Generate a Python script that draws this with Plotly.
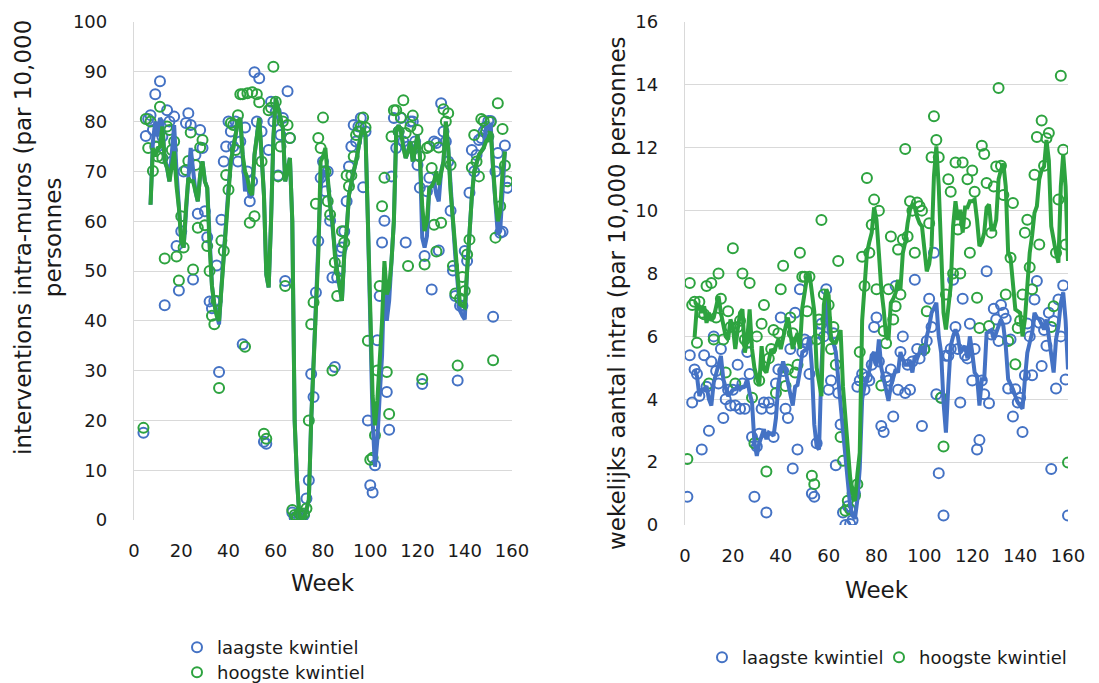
import plotly.graph_objects as go

# ---------------- data: left chart (interventions intra-muros) ----------------
left_start = 4
left_low_pts = [17.5, 77.1, 80.5, 81.3, 78.3, 85.5, 75, 88.1, 77, 43.1, 82.3, 80, 72, 81, 55, 46.1, 58, 70, 79.7, 81.7,
                79.3, 48.3, 73.3, 61.5, 78.3, 74.7, 62, 56.8, 43.9, 42.5, 44, 51.1, 29.7, 60.3, 72, 75, 80, 78, 75, 80,
                72, 76, 35.3, 78.8, 70, 64, 68, 89.9, 80, 88.7, 78, 15.7, 15.3, 74.3, 84, 80, 82, 69.2, 77.3, 80.7,
                48, 86.1, 76.7, 1.5, 0.5, 0.3, 0.2, 0.4, 1.0, 4.3, 8, 29.3, 24.7, 45.7, 56, 68.7, 72, 66, 70, 60.1,
                48.7, 30.7, 48.7, 54, 54.7, 58, 64, 71, 75, 79.3, 76, 79, 80.7, 66.8, 78, 20, 7, 5.5, 11, 36.1,
                45, 55.7, 60.1, 25.7, 18.1, 69, 80.7, 74.7, 78, 80.7, 76, 55.7, 75, 80, 80, 76, 71.3, 66.7, 27.3, 53,
                66, 68.7, 46.3, 76, 75.7, 54.1, 83.7, 78, 76, 72, 62.1, 50.1, 45, 28, 43, 43, 54, 52, 65.7, 74.3,
                70, 73.3, 76.3, 76.7, 78, 79, 80.1, 80.1, 40.8, 70, 73.7, 57.7, 57.9, 75.2, 66.7]
left_high_pts = [18.5, 80.5, 74.7, 80, 70.1, 75, 73, 83, 72.7, 52.5, 79, 78.3, 74.3, 76, 52.9, 48.1, 61, 54.7, 70.3, 72.1,
                 77.8, 50.3, 71.3, 58.7, 74.8, 76.3, 59.2, 55, 50, 41, 39.3, 44, 26.5, 56.1, 54, 69.3, 66.3, 79.7, 79.3, 74.3,
                 81.3, 85.5, 85.5, 34.8, 85.7, 59.7, 85.9, 61, 85.5, 83.9, 72, 17.3, 16.3, 82.3, 82.8, 91, 84, 69, 75, 80,
                 47, 79.3, 76.7, 2, 1.0, 0.7, 1.2, 0.8, 1.3, 2.3, 20, 39.3, 43.7, 63.5, 76.7, 74.7, 80.8, 70, 64, 61.3,
                 30, 51.7, 45, 50, 58, 55.7, 69.2, 67, 69.2, 73, 77.3, 78, 79, 80.8, 78.8, 36, 12.1, 12.5, 17, 30,
                 47, 63, 68.7, 29.7, 21.3, 77, 82.3, 82.3, 78, 80.8, 84.3, 77.7, 51, 79, 81.2, 75, 78.3, 73, 28.3, 51.3,
                 74.7, 75, 70.7, 59.3, 53.9, 74.8, 59.7, 82.5, 80, 81.7, 71.3, 51, 45.5, 31, 44.5, 48.8, 46, 53.3, 56.3, 70.8,
                 77.3, 72, 69, 80.5, 80.1, 78, 77, 79.9, 32.1, 56.7, 83.7, 63, 78.5, 71.2, 68]

left_line_start = 7
left_low_line = [63.3, 76, 80, 77, 80.7, 80, 72, 70.7, 68, 75, 79.3, 70, 62.7, 56, 54.7, 62.7, 68.7, 74.7, 70, 66,
                 64, 69.3, 72, 68, 66.7, 55, 47, 43.3, 41, 39.3, 46.7, 54, 58.7, 66.7, 72, 74.7, 78, 80, 80.7, 73.3,
                 66, 68, 64.7, 65.3, 73.3, 77, 80.7, 73.3, 65.3, 49.3, 46.7, 60, 76.7, 84.7, 82.7, 80, 78.7, 68, 70, 72.7,
                 60, 20, 8, 0.7, 0, 0.7, 2, 4, 20, 32, 40, 53.3, 66.7, 70, 70, 68, 63, 60, 53.3, 50,
                 47, 44, 53.3, 58, 65.3, 68, 70, 72, 75, 77.3, 78.7, 77.3, 60, 40, 20, 10.7, 16, 25, 33, 50.7,
                 40, 44, 52, 60, 78, 79.3, 78, 74.7, 72.7, 74, 76, 72, 75, 77.3, 73.3, 56.7, 54.7, 57, 66.7, 67,
                 68, 65.3, 64, 70, 72, 80, 74.7, 66, 60, 53, 47, 42, 41, 40.3, 50, 58, 65, 70, 72, 73.3,
                 74, 74.7, 78.7, 79, 79.3, 70, 64, 57.3, 58, 68, 74]
left_high_line = [63.3, 74.7, 73, 74.7, 75, 79, 72, 70.7, 68, 71.3, 74, 67, 62.7, 56, 54.7, 62.7, 68.7, 68, 68, 66,
                  64, 69.3, 72, 68, 66.7, 55, 47, 43.3, 41, 40, 46.7, 54, 58.7, 66.7, 72, 74.7, 78, 80, 80.7, 73.3,
                  70, 68.7, 66, 65.3, 73.3, 77, 80.7, 73.3, 65.3, 49.3, 46.7, 60, 76.7, 84.7, 82.7, 80, 78.7, 68, 70, 72.7,
                  60, 20, 8, 0.7, 0, 0.7, 2, 4, 20, 32, 40, 53.3, 72, 73, 74.7, 68, 63, 60, 53.3, 50,
                  47, 44, 53.3, 58, 65.3, 68, 70, 72, 75, 77.3, 78.7, 77.3, 60, 40, 25, 19, 24, 32, 40, 52,
                  45.3, 46.7, 52, 60, 78, 79.3, 78, 74.7, 72.7, 74, 76, 72, 75, 77.3, 73.3, 63, 58, 60, 66.7, 67,
                  68, 70, 67.3, 70, 72, 80, 74.7, 66, 60, 53, 47, 43.3, 43, 42.7, 50, 58, 65, 70, 72, 73.3,
                  74, 74.7, 76, 76.7, 78, 70, 64, 60, 62, 70, 74]

# ---------------- data: right chart (wekelijks aantal intra) ----------------
right_start = 1
right_low_pts = [0.9, 5.4, 3.9, 4.95, 4.8, 4.1, 2.4, 5.4, 4.4, 3.0, 5.2, 6.0, 4.9, 4.5, 5.6, 3.4, 4.0, 4.3, 3.8, 4.3,
                 3.8, 5.1, 3.7, 4.5, 3.7, 5.5, 4.8, 2.8, 0.9, 2.5, 2.9, 3.7, 3.9, 0.4, 3.9, 3.7, 2.8, 4.5, 4.95, 6.6,
                 4.9, 3.7, 3.4, 5.6, 1.8, 6.75, 2.4, 7.5, 5.5, 5.9, 5.8, 4.8, 1.0, 0.9, 2.6, 6.1, 6.4, 6.0, 7.5, 4.3,
                 4.6, 6.1, 1.9, 4.2, 3.2, 0.4, 0.0, 0.6, 0.03, 0.15, 1.0, 4.4, 4.6, 4.8, 4.3, 4.7, 4.6, 5.1, 6.3, 6.6,
                 5.2, 3.15, 2.96, 4.7, 4.6, 4.95, 3.45, 7.6, 4.3, 5.5, 6.0, 4.2, 5.1, 4.3, 5.2, 7.8, 5.6, 5.3, 3.15, 5.6,
                 5.85, 7.2, 6.3, 8.66, 4.16, 1.65, 4.05, 0.3, 5.38, 5.38, 5.6, 7.8, 6.3, 5.6, 3.9, 7.2, 5.4, 5.3, 6.4, 4.6,
                 5.6, 2.4, 2.7, 4.6, 4.16, 8.07, 3.87, 6.06, 6.88, 6.54, 5.85, 7.0, 6.75, 6.56, 4.34, 5.9, 3.45, 4.32, 3.9, 4.05,
                 2.96, 4.76, 6.41, 6.0, 4.76, 7.17, 7.76, 6.43, 5.06, 6.2, 5.7, 6.75, 1.78, 6.49, 4.34, 7.17, 6.0, 7.62, 4.63, 0.3]
right_high_pts = [2.1, 7.7, 7.0, 7.1, 5.8, 7.1, 6.75, 6.7, 7.6, 4.5, 7.7, 5.9, 6.6, 8.0, 7.2, 5.9, 4.85, 6.8, 6.3, 8.8,
                  4.5, 6.3, 6.5, 8.0, 5.9, 5.8, 7.7, 4.05, 2.6, 6.0, 4.6, 6.4, 7.0, 1.7, 5.3, 5.6, 6.2, 4.2, 6.1, 7.5,
                  8.25, 4.42, 4.95, 6.6, 6.1, 4.85, 5.1, 8.66, 7.9, 7.9, 6.8, 7.9, 1.57, 1.3, 5.9, 6.54, 9.7, 7.33, 6.54, 7.0,
                  5.6, 6.3, 5.1, 8.4, 2.8, 2.04, 0.45, 0.77, 0.5, 1.0, 0.93, 1.3, 5.5, 8.53, 7.6, 11.04, 8.66, 9.55, 10.35, 7.5,
                  10.0, 4.44, 6.17, 5.78, 7.5, 9.18, 6.54, 6.96, 8.76, 7.33, 9.08, 11.96, 9.18, 10.3, 10.0, 8.66, 10.26, 10.14, 10.0, 5.59,
                  6.8, 9.6, 11.7, 13.0, 12.25, 11.7, 4.05, 2.5, 7.33, 11.0, 10.6, 8.0, 11.53, 9.4, 8.0, 11.53, 9.6, 11.0, 8.66, 11.28,
                  10.6, 7.23, 6.27, 12.06, 11.8, 10.88, 6.33, 9.3, 10.77, 11.4, 13.9, 11.43, 10.5, 7.33, 5.85, 8.5, 10.24, 5.11, 6.27, 6.5,
                  7.33, 9.3, 9.71, 8.2, 7.5, 11.14, 12.34, 8.92, 12.87, 11.43, 12.3, 12.47, 6.3, 6.96, 8.66, 10.35, 14.29, 11.94, 8.92, 1.99]

right_line_start = 4
right_low_line = [4.95, 4.74, 4.1, 4.3, 4.32, 4.42, 4.0, 3.8, 4.53, 4.8, 5.06, 5.38, 4.64, 4.3, 4.1, 4.2, 4.3, 4.32, 4.42, 4.32,
                  4.4, 4.42, 4.64, 4.2, 3.9, 2.62, 2.2, 2.6, 2.84, 3.05, 2.73, 2.94, 2.9, 2.84, 3.4, 4.5, 4.9, 5.2, 4.9, 4.5,
                  4.1, 3.8, 4.4, 4.45, 4.9, 5.5, 5.55, 5.6, 6.0, 5.0, 3.2, 2.5, 2.4, 5.0, 6.5, 7.5, 6.2, 6.0, 5.8, 5.5,
                  4.6, 3.6, 3.0, 2.2, 1.46, 0.6, 0.3, 0.2, 0.8, 1.8, 4.0, 4.4, 4.6, 4.9, 5.4, 5.5, 5.06, 5.9, 5.0, 4.64,
                  4.42, 3.95, 4.42, 4.7, 4.95, 4.85, 5.5, 5.27, 5.1, 5.1, 5.17, 4.85, 5.38, 5.3, 5.5, 5.69, 5.38, 6.0, 6.3, 6.75,
                  6.9, 7.07, 6.0, 5.48, 3.9, 2.94, 4.42, 5.69, 6.0, 6.22, 6.0, 5.48, 5.6, 5.69, 5.3, 6.0, 5.48, 4.85, 4.74, 3.8,
                  4.64, 4.64, 6.1, 6.15, 6.2, 5.9, 6.1, 6.3, 6.54, 6.33, 5.69, 4.64, 4.5, 4.32, 4.1, 3.9, 3.8, 3.7, 4.64, 5.48,
                  5.8, 6.1, 6.75, 6.6, 6.54, 6.4, 6.22, 6.54, 5.9, 5.4, 4.85, 5.9, 6.33, 7.07, 7.4, 6.5, 4.95]
right_high_line = [5.96, 7.0, 6.96, 6.75, 6.96, 6.43, 6.75, 6.5, 6.6, 7.0, 7.28, 6.75, 6.3, 6.0, 5.9, 6.54, 6.3, 5.6, 6.2, 6.75,
                   6.86, 5.48, 5.9, 6.86, 5.6, 5.0, 4.7, 4.42, 5.69, 4.95, 4.85, 5.2, 5.59, 5.48, 5.7, 5.9, 5.6, 6.0, 6.3, 6.6,
                   6.1, 5.6, 5.9, 6.1, 5.6, 6.9, 7.4, 7.9, 8.0, 7.3, 6.8, 5.0, 4.5, 4.1, 7.0, 7.5, 7.3, 5.9, 5.8, 5.8,
                   6.0, 6.2, 4.4, 3.4, 2.5, 1.5, 1.0, 0.77, 1.6, 2.3, 6.5, 7.6, 8.65, 9.0, 9.3, 10.1, 9.7, 8.65, 7.5, 6.86,
                   6.0, 5.9, 7.07, 7.2, 7.39, 7.8, 7.5, 8.65, 9.0, 9.6, 10.03, 10.2, 10.1, 9.8, 9.6, 9.5, 8.65, 8.07, 8.3, 8.87,
                   11.1, 12.04, 10.77, 8.65, 6.75, 6.22, 6.9, 7.6, 9.5, 10.3, 9.7, 10.03, 9.3, 10.1, 10.1, 10.3, 10.3, 10.35, 9.7, 8.87,
                   9.0, 9.3, 10.1, 10.2, 9.4, 9.4, 9.7, 11.0, 11.3, 11.5, 10.77, 8.65, 8.5, 7.5, 6.86, 6.8, 6.75, 6.0, 6.54, 7.6,
                   8.65, 9.2, 9.93, 10.14, 11.0, 11.3, 11.4, 12.25, 11.6, 9.5, 9.0, 8.65, 8.34, 10.77, 11.8, 10.77, 8.4]

series_names = ["laagste kwintiel", "hoogste kwintiel"]
x_ticks = [0, 20, 40, 60, 80, 100, 120, 140, 160]


def weeks(start, vals):
    return list(range(start, start + len(vals)))


BLUE = "#4472C4"
GREEN = "#2DA33F"
GRID = "#D9D9D9"
TXT = "#1a1a1a"
FONT = "DejaVu Sans"
W, H = 1099, 683

fig = go.Figure()

marker_style = dict(symbol="circle-open", size=10, line=dict(width=2))
LW = 4

# left chart
fig.add_trace(go.Scatter(x=weeks(left_start, left_low_pts), y=left_low_pts, mode="markers",
                         marker=dict(color=BLUE, **marker_style), name=series_names[0],
                         xaxis="x", yaxis="y", legend="legend"))
fig.add_trace(go.Scatter(x=weeks(left_start, left_high_pts), y=left_high_pts, mode="markers",
                         marker=dict(color=GREEN, **marker_style), name=series_names[1],
                         xaxis="x", yaxis="y", legend="legend2"))
fig.add_trace(go.Scatter(x=weeks(left_line_start, left_low_line), y=left_low_line, mode="lines",
                         line=dict(color=BLUE, width=LW), showlegend=False, xaxis="x", yaxis="y"))
fig.add_trace(go.Scatter(x=weeks(left_line_start, left_high_line), y=left_high_line, mode="lines",
                         line=dict(color=GREEN, width=LW), showlegend=False, xaxis="x", yaxis="y"))

# right chart
fig.add_trace(go.Scatter(x=weeks(right_start, right_low_pts), y=right_low_pts, mode="markers",
                         marker=dict(color=BLUE, **marker_style), name=series_names[0],
                         xaxis="x2", yaxis="y2", legend="legend3"))
fig.add_trace(go.Scatter(x=weeks(right_start, right_high_pts), y=right_high_pts, mode="markers",
                         marker=dict(color=GREEN, **marker_style), name=series_names[1],
                         xaxis="x2", yaxis="y2", legend="legend4"))
fig.add_trace(go.Scatter(x=weeks(right_line_start, right_low_line), y=right_low_line, mode="lines",
                         line=dict(color=BLUE, width=LW), showlegend=False, xaxis="x2", yaxis="y2"))
fig.add_trace(go.Scatter(x=weeks(right_line_start, right_high_line), y=right_high_line, mode="lines",
                         line=dict(color=GREEN, width=LW), showlegend=False, xaxis="x2", yaxis="y2"))

tickfont = dict(family=FONT, size=18, color=TXT)
xcommon = dict(range=[0, 160], tickvals=x_ticks, showgrid=False, zeroline=False,
               showline=False, ticks="", tickfont=tickfont, ticklabelstandoff=18, fixedrange=True)
ycommon = dict(showgrid=True, gridcolor=GRID, gridwidth=1.3, zeroline=False,
               showline=True, linecolor=GRID, linewidth=1.3, ticks="", tickfont=tickfont,
               ticklabelstandoff=22, fixedrange=True)

title_font = dict(family=FONT, size=23, color=TXT)
legend_font = dict(family=FONT, size=18, color=TXT)


def legend_at(px, py):
    return dict(orientation="v", x=px / W, y=1 - py / H, xanchor="left", yanchor="top",
                font=legend_font, bgcolor="rgba(0,0,0,0)", itemwidth=30)


fig.update_layout(
    width=W, height=H,
    margin=dict(l=0, r=0, t=0, b=0, pad=0, autoexpand=False),
    paper_bgcolor="white", plot_bgcolor="white",
    font=dict(family=FONT, color=TXT),
    xaxis=dict(domain=[134 / W, 512 / W], anchor="y", **xcommon),
    yaxis=dict(domain=[1 - 520 / H, 1 - 22 / H], anchor="x", range=[0, 100], dtick=10, **ycommon),
    xaxis2=dict(domain=[685 / W, 1068 / W], anchor="y2", **xcommon),
    yaxis2=dict(domain=[1 - 525 / H, 1 - 22 / H], anchor="x2", range=[0, 16], dtick=2, **ycommon),
    legend=legend_at(177, 629),
    legend2=legend_at(177, 654),
    legend3=legend_at(702, 639),
    legend4=legend_at(879, 639),
    annotations=[
        dict(text="interventions intra-muros (par 10,000<br>personnes", textangle=-90,
             x=38 / W, y=1 - 238 / H, xref="paper", yref="paper", xanchor="center", yanchor="middle",
             showarrow=False, font=title_font, align="center"),
        dict(text="wekelijks aantal intra (par 10,000 personnes", textangle=-90,
             x=617 / W, y=1 - 293 / H, xref="paper", yref="paper", xanchor="center", yanchor="middle",
             showarrow=False, font=title_font),
        dict(text="Week", x=323 / W, y=1 - 583 / H, xref="paper", yref="paper",
             xanchor="center", yanchor="middle", showarrow=False, font=title_font),
        dict(text="Week", x=877 / W, y=1 - 590 / H, xref="paper", yref="paper",
             xanchor="center", yanchor="middle", showarrow=False, font=title_font),
    ],
)

fig.write_html("out.html")
